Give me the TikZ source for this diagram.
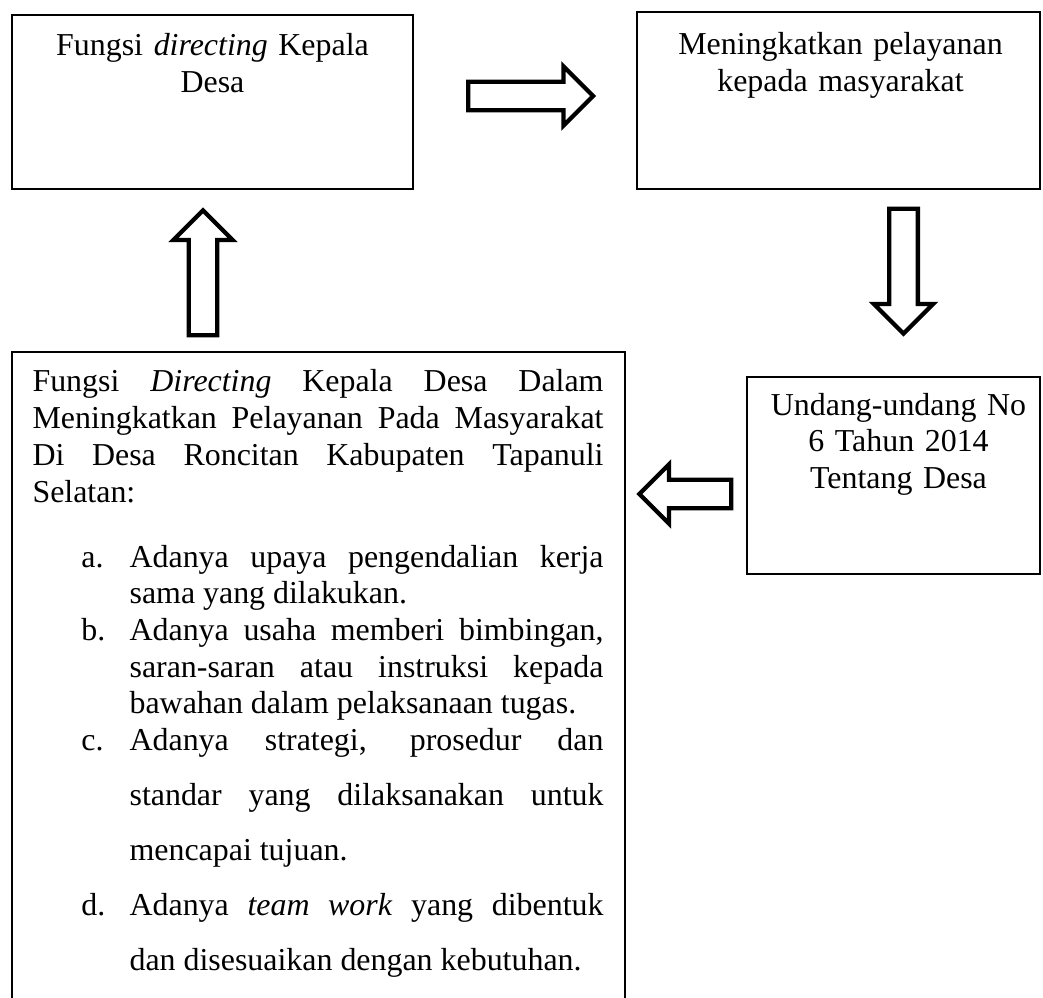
\documentclass[tikz,border=0pt]{standalone}
\usepackage{fontspec}
\setmainfont{Liberation Serif}
\usetikzlibrary{shapes.arrows, positioning, fit, calc}
\tikzset{
  kotak/.style={rectangle, draw=black, line width=0.75pt, inner sep=0pt},
  judul/.style={text width=140pt, align=center, inner sep=0pt,
    font=\fontsize{12}{13.8}\selectfont},
  isi/.style={text width=214.7pt, align=justify, inner sep=0pt,
    font=\fontsize{12}{13.8}\selectfont},
  panah/.style={single arrow, draw=black, fill=white, line width=1.6pt,
    inner xsep=0pt, inner ysep=4.6pt, minimum width=0pt,
    single arrow head extend=5.8pt, single arrow tip angle=90}
}
\newcommand{\butir}[2]{\noindent\llap{\makebox[18.1pt][l]{#1}}#2\par}

\begin{document}
\begin{tikzpicture}[x=0.376pt, y=-0.376pt]
  \useasboundingbox (0,0) rectangle (1043,998);
  \clip (0,0) rectangle (1043,998);

  % Kotak
  \node[kotak, fit={(12,15) (413,189)}] (fungsi) {};
  \node[kotak, fit={(637,12) (1040,189)}] (layanan) {};
  \node[kotak, fit={(747,377) (1040,574)}] (uu) {};
  \node[kotak, fit={(12,352) (625,1010)}] (utama) {};

  % Teks kotak
  \node[judul, anchor=base] (tFungsi) at ($(fungsi.north)+(0,42)$)
    {Fungsi \textit{directing} Kepala\\Desa};
  \node[judul, anchor=base] (tLayanan) at ($(layanan.north)+(2,44)$)
    {Meningkatkan pelayanan\\kepada masyarakat};
  \node[judul, anchor=base] (tUU) at ($(uu.north)+(5,39)$)
    {Undang-undang No\\6 Tahun 2014\\Tentang Desa};

  % Isi kotak bawah
  \node[isi, anchor=base west] (tUtama) at ($(utama.north west)+(21,41)$) {%
    \tolerance=10000 \hbadness=10000 \hyphenpenalty=10000
    Fungsi \textit{Directing} Kepala Desa Dalam\linebreak
    Meningkatkan Pelayanan Pada Masyarakat\linebreak
    Di Desa Roncitan Kabupaten Tapanuli\linebreak
    Selatan:\par
    \vspace{10.65pt}%
    \leftskip=36.5pt
    \butir{a.}{Adanya upaya pengendalian kerja\linebreak
      sama yang dilakukan.}
    \butir{b.}{Adanya usaha memberi bimbingan,\linebreak
      saran-saran atau instruksi kepada\linebreak
      bawahan dalam pelaksanaan tugas.}
    {\fontsize{12}{20.7}\selectfont
    \vspace{-6.9pt}%
    \butir{c.}{Adanya strategi, prosedur dan\linebreak
      standar yang dilaksanakan untuk\linebreak
      mencapai tujuan.}
    \butir{d.}{Adanya \textit{team work} yang dibentuk\linebreak
      dan disesuaikan dengan kebutuhan.}}
  };

  % Panah
  \node[panah, minimum height=47pt] (pKanan) at (523.5,96) {};
  \node[panah, minimum height=47pt, rotate=90] (pAtas) at (203,280) {};
  \node[panah, minimum height=47pt, rotate=-90] (pBawah) at (903.5,264) {};
  \node[panah, minimum height=34.6pt, rotate=180] (pKiri) at (692.5,494) {};
\end{tikzpicture}
\end{document}
